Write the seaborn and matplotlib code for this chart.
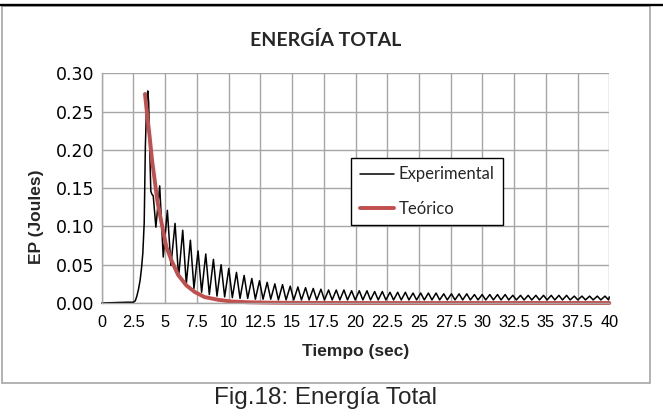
import numpy as np
import pandas as pd
import matplotlib
matplotlib.use("Agg")
import matplotlib.pyplot as plt
import seaborn as sns
from matplotlib.patches import Rectangle
from matplotlib.lines import Line2D

# ---- Experimental energy: quiet start, impulse and first shoulder ----
onset_t = [0.0, 1.0, 2.0, 2.50, 2.65, 2.77, 2.90, 3.03, 3.14, 3.24, 3.35, 3.44,
           3.52, 3.57, 3.63, 3.70, 3.78, 3.87, 3.96, 4.06, 4.27]
onset_e = [0.000, 0.0005, 0.001, 0.001, 0.003, 0.009, 0.018, 0.030, 0.046, 0.065,
           0.105, 0.204, 0.250, 0.269, 0.277, 0.262, 0.204, 0.146, 0.142, 0.140, 0.099]

# ---- Experimental energy: decaying oscillation (crest / trough values) ----
osc_start = 4.57        # time of the first crest after the shoulder (s)
osc_period = 0.605      # crest-to-crest spacing (s)
osc_trough_lag = 0.28   # crest-to-trough spacing (s)
osc_peaks = [0.153, 0.121, 0.104, 0.095, 0.082, 0.068, 0.064, 0.057, 0.050, 0.045,
             0.040, 0.036, 0.032, 0.029, 0.027, 0.025, 0.024, 0.022, 0.021, 0.020,
             0.019, 0.018, 0.017, 0.017, 0.017, 0.016, 0.016, 0.016, 0.015, 0.015,
             0.014, 0.014, 0.014, 0.013, 0.013, 0.013, 0.013, 0.012, 0.012, 0.012,
             0.012, 0.011, 0.011, 0.011, 0.011, 0.011, 0.010, 0.010, 0.010, 0.010,
             0.010, 0.010, 0.010, 0.010, 0.009, 0.009, 0.009, 0.009, 0.009]
osc_troughs = [0.060, 0.049, 0.034, 0.025, 0.019, 0.014, 0.011, 0.009, 0.008, 0.007,
               0.006, 0.006, 0.005, 0.005, 0.005, 0.004, 0.004, 0.004, 0.004, 0.004,
               0.004, 0.004, 0.004, 0.004, 0.004, 0.004, 0.004, 0.004, 0.004, 0.004,
               0.004, 0.004, 0.004, 0.004, 0.004, 0.004, 0.004, 0.004, 0.004, 0.004,
               0.004, 0.004, 0.004, 0.004, 0.004, 0.004, 0.004, 0.004, 0.004, 0.004,
               0.004, 0.004, 0.004, 0.004, 0.004, 0.004, 0.004, 0.004, 0.004]
exp_end_t = 40.0
exp_end_e = 0.008

# ---- Theoretical energy ----
theo_t = [3.41, 3.60, 3.78, 3.97, 4.18, 4.38, 4.57, 4.83, 5.10, 5.49, 6.01, 6.67,
          7.33, 8.10, 9.17, 10.2, 11.5, 13.0, 15.0, 20.0, 25.0, 30.0, 35.0, 40.0]
theo_e = [0.273, 0.243, 0.217, 0.186, 0.160, 0.134, 0.117, 0.095, 0.073, 0.056,
          0.037, 0.023, 0.0144, 0.0078, 0.0042, 0.0020, 0.0010, 0.0005, 0.0002,
          0.0, 0.0, 0.0, 0.0, 0.0]

x_ticks = [0, 2.5, 5, 7.5, 10, 12.5, 15, 17.5, 20, 22.5, 25, 27.5, 30, 32.5, 35, 37.5, 40]
x_tick_labels = ["0", "2.5", "5", "7.5", "10", "12.5", "15", "17.5", "20", "22.5",
                 "25", "27.5", "30", "32.5", "35", "37.5", "40"]
y_ticks = [0.00, 0.05, 0.10, 0.15, 0.20, 0.25, 0.30]
y_tick_labels = ["0.00", "0.05", "0.10", "0.15", "0.20", "0.25", "0.30"]

# assemble the experimental series
peak_t = osc_start + osc_period * np.arange(len(osc_peaks))
trough_t = peak_t + osc_trough_lag
osc_t = np.column_stack([peak_t, trough_t]).ravel()
osc_e = np.column_stack([osc_peaks, osc_troughs]).ravel()
exp_df = pd.DataFrame({
    "t": np.concatenate([onset_t, osc_t, [exp_end_t]]),
    "E": np.concatenate([onset_e, osc_e, [exp_end_e]]),
})
theo_df = pd.DataFrame({"t": theo_t, "E": theo_e})

sns.set_theme(style="whitegrid")
plt.rcParams["font.family"] = ["Liberation Sans", "DejaVu Sans"]

W, H = 663, 417
fig = plt.figure(figsize=(W / 100, H / 100), dpi=100)
fig.patch.set_facecolor("white")

# chart frame and top rule
fig.add_artist(Rectangle((2 / W, 1 - 383 / H), 648 / W, 377 / H,
                         transform=fig.transFigure, fill=False,
                         edgecolor="#A6A6A6", linewidth=1.2))
fig.add_artist(Line2D([0, 1], [1 - 5 / H, 1 - 5 / H], transform=fig.transFigure,
                      color="black", linewidth=1.7))

ax_l, ax_r, ax_t, ax_b = 101.7, 609.3, 73.3, 303.0
ax = fig.add_axes([ax_l / W, 1 - ax_b / H, (ax_r - ax_l) / W, (ax_b - ax_t) / H])
ax.set_facecolor("white")

grid_c = "#A6A6A6"
sns.lineplot(data=exp_df, x="t", y="E", ax=ax, color="black", linewidth=1.1,
             estimator=None, sort=False, label="Experimental", clip_on=False)
sns.lineplot(data=theo_df, x="t", y="E", ax=ax, color="#C0504D", linewidth=2.8,
             estimator=None, sort=False, label="Teórico", clip_on=False,
             solid_capstyle="round")

ax.set_xlim(0, 40)
ax.set_ylim(0, 0.30)
ax.set_xticks(x_ticks)
ax.set_xticklabels(x_tick_labels)
ax.set_yticks(y_ticks)
ax.set_yticklabels(y_tick_labels)
ax.grid(True, color=grid_c, linewidth=1.0)
ax.set_axisbelow(True)
for side in ["top", "right"]:
    ax.spines[side].set_visible(False)
for side in ["left", "bottom"]:
    ax.spines[side].set_color(grid_c)
    ax.spines[side].set_linewidth(1.0)
ax.tick_params(axis="both", direction="out", length=4, width=1.0, color=grid_c,
               labelcolor="black")
ax.tick_params(axis="x", labelsize=11.7, pad=4.5)
ax.tick_params(axis="y", labelsize=12.5, pad=1)
for lab in ax.get_yticklabels():
    lab.set_family(["DejaVu Sans"])

ax.set_xlabel("Tiempo (sec)", fontsize=12.5, fontweight="bold")
ax.set_ylabel("EP (Joules)", fontsize=12.5, fontweight="bold")
ax.xaxis.label.set_va("center")
ax.xaxis.set_label_coords(0.5, -0.213)
ax.yaxis.label.set_va("center")
ax.yaxis.set_label_coords(-0.129, 0.374)

fig.text(326 / W, 1 - 40 / H, "ENERGÍA TOTAL", ha="center", va="center",
         fontsize=14, fontweight="bold", family=["Lato", "DejaVu Sans"])

leg = ax.legend(loc="upper left", bbox_to_anchor=(351 / W, 1 - 158 / H),
                bbox_transform=fig.transFigure, borderaxespad=0, frameon=True,
                fancybox=False, framealpha=1, edgecolor="black",
                prop={"family": ["Lato", "DejaVu Sans"], "size": 12},
                handlelength=2.04, handletextpad=0.3, labelspacing=1.08,
                borderpad=0.51)
leg.get_frame().set_linewidth(1.0)

fig.text(326 / W, 1 - 398 / H, "Fig.18: Energía Total", ha="center", va="center",
         fontsize=17.5)

fig.savefig("out.png", dpi=100)
